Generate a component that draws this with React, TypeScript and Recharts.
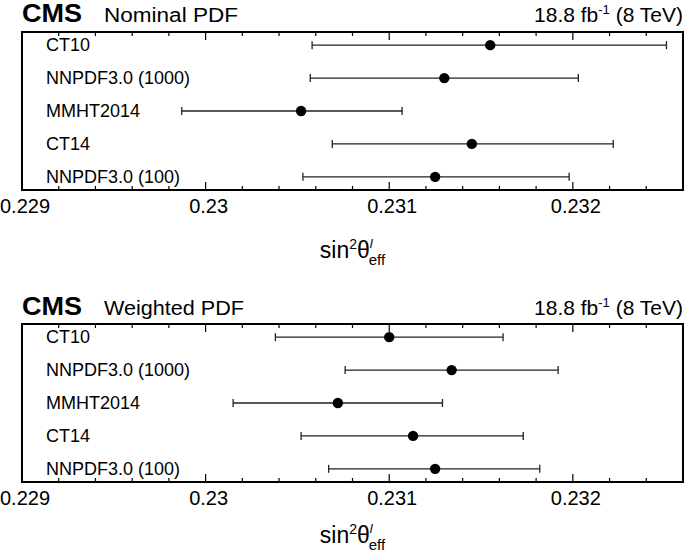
import React from "react"
import {
  ScatterChart,
  Scatter,
  XAxis,
  YAxis,
  ErrorBar,
  ReferenceArea,
} from "recharts"

// PDF sets, top to bottom
const pdfSets = ["CT10", "NNPDF3.0 (1000)", "MMHT2014", "CT14", "NNPDF3.0 (100)"]

// nominal PDF fits: central value, lower and upper edge of the error bar
const nominalCentral = [0.23155, 0.2313, 0.23052, 0.23145, 0.23125]
const nominalLow = [0.23058, 0.23057, 0.22987, 0.23069, 0.23053]
const nominalHigh = [0.23251, 0.23203, 0.23107, 0.23222, 0.23198]

// weighted PDF fits
const weightedCentral = [0.231, 0.23134, 0.23072, 0.23113, 0.23125]
const weightedLow = [0.23038, 0.23076, 0.23015, 0.23052, 0.23067]
const weightedHigh = [0.23162, 0.23192, 0.23129, 0.23173, 0.23182]

const xTicks = [
  0.229, 0.2292, 0.2294, 0.2296, 0.2298, 0.23, 0.2302, 0.2304, 0.2306, 0.2308,
  0.231, 0.2312, 0.2314, 0.2316, 0.2318, 0.232, 0.2322, 0.2324, 0.2326,
]
const majorTicks = [0.229, 0.23, 0.231, 0.232]
const majorLabels = ["0.229", "0.23", "0.231", "0.232"]

const X_DOMAIN: [number, number] = [0.229, 0.2326]
const Y_DOMAIN: [number, number] = [-0.4, 4.4]

const FONT = "'Liberation Sans', Arial, Helvetica, sans-serif"
const W = 685
const PLOT_TOP = 32
const PLOT_H = 158
const PLOT_LEFT = 22
const PLOT_RIGHT = 683

function buildRows(central: number[], low: number[], high: number[]) {
  return central.map((c, i) => ({
    x: c,
    y: i,
    err: [c - low[i], high[i] - c],
  }))
}

function XTick({ x, y, payload }: any) {
  const idx = majorTicks.findIndex((m) => Math.abs(m - payload.value) < 1e-7)
  const major = idx >= 0
  const len = major ? 8 : 4
  return (
    <g>
      <line x1={x} x2={x} y1={y} y2={y - len} stroke="#000" strokeWidth={1.2} />
      <line
        x1={x}
        x2={x}
        y1={y - PLOT_H}
        y2={y - PLOT_H + len}
        stroke="#000"
        strokeWidth={1.2}
      />
      {major && (
        <text
          x={x + 3}
          y={y + 23}
          textAnchor="middle"
          fontSize={20}
          fontFamily={FONT}
          fill="#000"
        >
          {majorLabels[idx]}
        </text>
      )}
    </g>
  )
}

function YTick({ y, payload }: any) {
  return (
    <text
      x={PLOT_LEFT + 24}
      y={y + 6}
      textAnchor="start"
      fontSize={18}
      fontFamily={FONT}
      fill="#000"
    >
      {pdfSets[payload.value]}
    </text>
  )
}

function AxisTitle({ gap }: any) {
  const cx = (PLOT_LEFT + PLOT_RIGHT) / 2
  const base = PLOT_TOP + PLOT_H + gap
  return (
    <text
      x={cx}
      y={base}
      textAnchor="middle"
      fontSize={23}
      fontFamily={FONT}
      fill="#000"
    >
      sin
      <tspan dy={-9} fontSize={14}>
        2
      </tspan>
      <tspan dy={9}>θ</tspan>
      <tspan dy={-10} fontSize={13} fontStyle="italic">
        l
      </tspan>
      <tspan dx={-4} dy={17} fontSize={15}>
        eff
      </tspan>
    </text>
  )
}

function Dot({ cx, cy }: any) {
  return <circle cx={cx} cy={cy} r={5.2} fill="#000" />
}

function Header({ subtitle, baseline }: { subtitle: string; baseline: number }) {
  return (
    <svg
      width={W}
      height={30}
      style={{ position: "absolute", left: 0, top: 0 }}
      fontFamily={FONT}
    >
      <text
        x={22}
        y={baseline}
        fontSize={25}
        fontWeight="bold"
        fill="#000"
        textLength={60}
        lengthAdjust="spacingAndGlyphs"
      >
        CMS
      </text>
      <text
        x={104}
        y={baseline}
        fontSize={20}
        fill="#000"
        textLength={subtitle === "Nominal PDF" ? 134 : 140}
        lengthAdjust="spacingAndGlyphs"
      >
        {subtitle}
      </text>
      <text x={683} y={baseline} fontSize={21} textAnchor="end" fill="#000">
        18.8 fb
        <tspan dy={-8} fontSize={13}>
          -1
        </tspan>
        <tspan dy={8}> (8 TeV)</tspan>
      </text>
    </svg>
  )
}

function Panel({
  subtitle,
  rows,
  height,
  titleGap,
  headerBaseline,
}: {
  subtitle: string
  rows: { x: number; y: number; err: number[] }[]
  height: number
  titleGap: number
  headerBaseline: number
}) {
  const axisHeight = height - PLOT_TOP - PLOT_H
  return (
    <div style={{ position: "relative", width: W, height }}>
      <ScatterChart
        width={W}
        height={height}
        margin={{ top: PLOT_TOP, right: W - PLOT_RIGHT, bottom: 0, left: 0 }}
      >
        <XAxis
          type="number"
          dataKey="x"
          domain={X_DOMAIN}
          ticks={xTicks}
          allowDataOverflow
          interval={0}
          height={axisHeight}
          axisLine={false}
          tickLine={false}
          tickSize={0}
          tickMargin={0}
          tick={<XTick />}
          label={<AxisTitle gap={titleGap} />}
        />
        <YAxis
          type="number"
          dataKey="y"
          domain={Y_DOMAIN}
          ticks={[0, 1, 2, 3, 4]}
          reversed
          width={PLOT_LEFT}
          axisLine={false}
          tickLine={false}
          tick={<YTick />}
        />
        <ReferenceArea
          x1={X_DOMAIN[0]}
          x2={X_DOMAIN[1]}
          y1={Y_DOMAIN[0]}
          y2={Y_DOMAIN[1]}
          fill="none"
          stroke="#000"
          strokeWidth={2}
          ifOverflow="visible"
        />
        <Scatter
          data={rows}
          fill="#000"
          shape={<Dot />}
          isAnimationActive={false}
        >
          <ErrorBar
            dataKey="err"
            direction="x"
            width={4}
            stroke="#222"
            strokeWidth={1.3}
            isAnimationActive={false}
          />
        </Scatter>
      </ScatterChart>
      <Header subtitle={subtitle} baseline={headerBaseline} />
    </div>
  )
}

export default function App() {
  return (
    <div
      style={{
        position: "absolute",
        left: 0,
        top: 0,
        width: W,
        height: 556,
        background: "#fff",
        fontFamily: FONT,
      }}
    >
      <Panel
        subtitle="Nominal PDF"
        rows={buildRows(nominalCentral, nominalLow, nominalHigh)}
        height={292}
        titleGap={68}
        headerBaseline={22}
      />
      <Panel
        subtitle="Weighted PDF"
        rows={buildRows(weightedCentral, weightedLow, weightedHigh)}
        height={264}
        titleGap={61}
        headerBaseline={23}
      />
    </div>
  )
}
